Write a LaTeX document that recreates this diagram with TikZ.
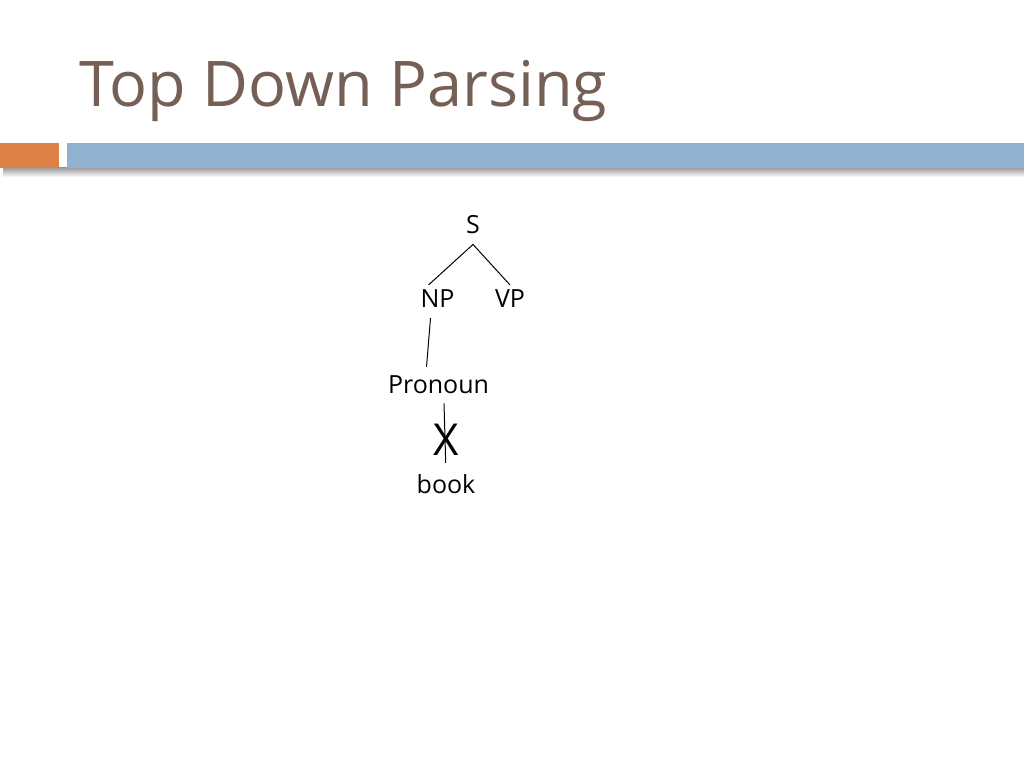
\documentclass[tikz,border=0pt]{standalone}
\usepackage{fontspec}
\setmainfont{Open Sans}
\usetikzlibrary{positioning}
\definecolor{titlebrown}{RGB}{117,96,85}
\definecolor{barblue}{RGB}{144,178,208}
\definecolor{barorange}{RGB}{220,128,70}

\begin{document}
\begin{tikzpicture}[
    x=1pt, y=-1pt,
    word/.style={inner sep=0pt, anchor=base, font=\fontsize{25}{30}\selectfont},
    branch/.style={draw, line width=1pt}
]
\useasboundingbox (0,0) rectangle (1024,768);
\fill[white] (0,0) rectangle (1024,768);

% header
\node[anchor=base west, inner sep=0pt, text=titlebrown, font=\fontsize{63}{70}\selectfont] (title) at (79,106) {Top Down Parsing};
\shade[top color=gray!85, bottom color=white] (3,167) rectangle (1024,177);
\fill[barorange] (0,143) rectangle (59,168);
\fill[barblue] (67,143) rectangle (1024,168);

% tree
\node[word] (s) at (473,233) {S};
\node[word] (np) at (437.5,307) {NP};
\node[word] (vp) at (510,307) {VP};
\node[word] (pron) at (438.5,393) {Pronoun};
\node[word] (book) at (446,493) {book};
\node[inner sep=0pt, anchor=base, font=\fontsize{44}{50}\selectfont] (cross) at (446,455) {X};

\draw[branch] ([yshift=-11pt]s.south) -- ([xshift=-9pt,yshift=4pt]np.north);
\draw[branch] ([yshift=-11pt]s.south) -- ([yshift=4pt]vp.north);
\draw[branch] ([xshift=-7pt,yshift=-11pt]np.south) -- ([xshift=-12pt,yshift=8pt]pron.north);
\draw[branch] ([xshift=5.5pt,yshift=-10pt]pron.south) -- ([xshift=-0.3pt,yshift=11pt]book.north);
\end{tikzpicture}
\end{document}
